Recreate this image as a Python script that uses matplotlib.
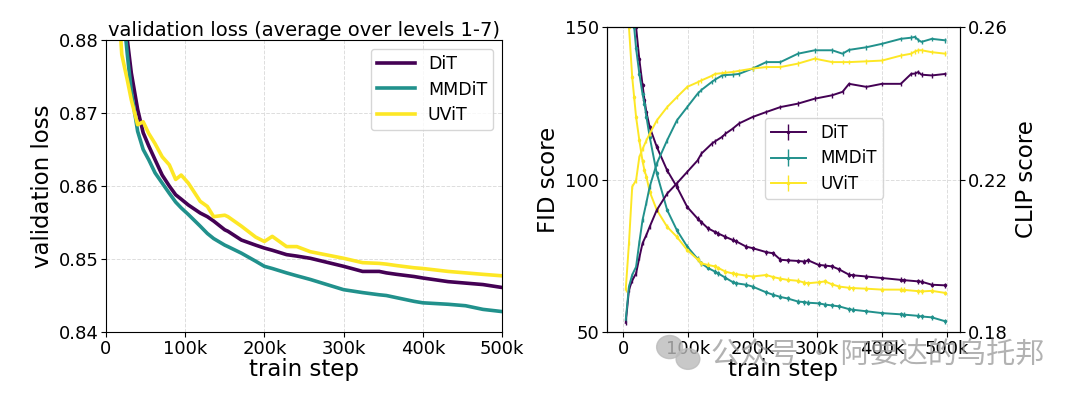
import matplotlib.pyplot as plt
import numpy as np
from matplotlib.patches import Ellipse

# left panel: validation loss
loss_step = [10, 20, 27, 32, 40, 47, 54, 62, 71, 80, 88, 95, 104, 119, 128, 136, 150, 154,
             171, 189, 200, 210, 228, 241, 258, 300, 324, 345, 354, 367, 389, 400, 432,
             454, 476, 500]
loss_dit = [0.905, 0.888, 0.880, 0.8755, 0.8705, 0.8673, 0.8655, 0.8636, 0.8615, 0.8600,
            0.8588, 0.8582, 0.8574, 0.8563, 0.8558, 0.8552, 0.8540, 0.8538, 0.8526, 0.8519,
            0.8515, 0.8512, 0.8506, 0.8504, 0.8501, 0.8490, 0.8483, 0.8483, 0.8481, 0.8479,
            0.8476, 0.8474, 0.8469, 0.8467, 0.8465, 0.8461]
loss_mmdit = [0.903, 0.886, 0.878, 0.8730, 0.8675, 0.8650, 0.8636, 0.8618, 0.8604, 0.8590,
              0.8578, 0.8570, 0.8561, 0.8545, 0.8535, 0.8528, 0.8519, 0.8517, 0.8508, 0.8497,
              0.8490, 0.8487, 0.8481, 0.8477, 0.8472, 0.8458, 0.8454, 0.8451, 0.8450, 0.8447,
              0.8442, 0.8440, 0.8438, 0.8436, 0.8431, 0.8428]
loss_uvit = [0.895, 0.878, 0.8745, 0.8718, 0.8684, 0.8688, 0.8672, 0.8658, 0.8640, 0.8629,
             0.8609, 0.8615, 0.8604, 0.8579, 0.8572, 0.8558, 0.8560, 0.8558, 0.8545, 0.8530,
             0.8524, 0.8531, 0.8517, 0.8517, 0.8510, 0.8501, 0.8495, 0.8494, 0.8493, 0.8491,
             0.8488, 0.8487, 0.8483, 0.8481, 0.8479, 0.8477]

# right panel: FID (left axis)
fid_step = [9, 14, 17, 20, 25, 30, 33, 36, 41, 52, 68, 83, 99, 115, 121, 131, 142, 147, 158,
            169, 174, 190, 200, 221, 232, 243, 254, 270, 280, 286, 302, 312, 323, 334, 349,
            355, 376, 400, 429, 434, 456, 461, 477, 498]
fid_dit = [190, 175, 160, 150, 139.4, 131, 126, 122, 117.2, 110.7, 103, 97.6, 91, 87.2, 86,
           84, 82.8, 82.3, 81.2, 80.2, 79.8, 78, 77.5, 76.2, 75.8, 73.7, 73.5, 73.3, 73.1,
           73.5, 72, 71.8, 71.5, 70.5, 68.8, 68.6, 68.2, 67.7, 67.1, 67.0, 66.6, 66.5, 65.5,
           65.3]
fid_mmdit = [175, 160, 150, 143, 134.7, 128, 124.9, 120.5, 114, 102, 90, 83.4, 78, 74,
             72.5, 71, 69.8, 69.2, 67.8, 66.4, 66, 65.5, 64.9, 63, 62.2, 61.5, 61, 60, 59.8,
             59.6, 59.4, 59, 58.7, 58.4, 57.5, 57.3, 56.8, 56.2, 55.8, 55.7, 55.3, 55.1, 54.8,
             53.5]
fid_uvit = [150, 133.6, 127, 120.5, 112.9, 106, 103, 100.9, 96, 90, 84.5, 81.2, 76.9, 73.8,
            72.5, 72, 71.5, 71, 69.8, 69.2, 69, 68.5, 68.2, 68.7, 68, 67.5, 67.1, 66.8, 66.2,
            66, 66.3, 66.6, 65.6, 64.9, 64.5, 64.4, 64.2, 63.9, 63.9, 63.8, 63.4, 63.3, 63.5,
            62.8]

# right panel: CLIP (right axis)
clip_step = [4, 9, 14, 20, 25, 30, 36, 41, 52, 68, 83, 99, 115, 121, 137, 142, 153, 158, 169,
             179, 200, 221, 243, 270, 296, 323, 339, 349, 376, 400, 429, 445, 451, 456, 461,
             477, 498]
clip_dit = [0.1824, 0.1911, 0.1935, 0.1954, 0.1995, 0.2033, 0.2055, 0.2076, 0.2120, 0.2163,
            0.2190, 0.2220, 0.2250, 0.2268, 0.2294, 0.2300, 0.2312, 0.2320, 0.2333, 0.2347,
            0.2364, 0.2377, 0.2390, 0.2399, 0.2412, 0.2421, 0.2430, 0.2451, 0.2443, 0.2451,
            0.2451, 0.2477, 0.2478, 0.2482, 0.2475, 0.2473, 0.2477]
clip_mmdit = [0.1832, 0.1919, 0.1950, 0.1971, 0.2035, 0.2094, 0.2140, 0.2181, 0.2242, 0.2303,
              0.2355, 0.2390, 0.2425, 0.2435, 0.2456, 0.2462, 0.2473, 0.2474, 0.2475, 0.2477,
              0.2491, 0.2508, 0.2508, 0.2530, 0.2539, 0.2539, 0.2530, 0.2540, 0.2547, 0.2556,
              0.2569, 0.2572, 0.2574, 0.2566, 0.2561, 0.2569, 0.2565]
clip_uvit = [0.1911, 0.2033, 0.2181, 0.2198, 0.2259, 0.2280, 0.2303, 0.2320, 0.2355, 0.2390,
             0.2416, 0.2443, 0.2455, 0.2460, 0.2472, 0.2477, 0.2479, 0.2480, 0.2482, 0.2485,
             0.2491, 0.2495, 0.2495, 0.2504, 0.2517, 0.2508, 0.2508, 0.2508, 0.2510, 0.2512,
             0.2525, 0.2530, 0.2536, 0.2539, 0.2539, 0.2534, 0.2530]
fid_err = 0.8
clip_err = 0.0006

names = ['DiT', 'MMDiT', 'UViT']
colors = ['#440154', '#21918c', '#fde725']

x_ticks = [0, 100, 200, 300, 400, 500]
x_labels = ['0', '100k', '200k', '300k', '400k', '500k']

fig = plt.figure(figsize=(10.8, 3.98), dpi=100)
ax1 = fig.add_axes([0.0981, 0.1658, 0.3667, 0.7337])
ax2 = fig.add_axes([0.562, 0.1658, 0.3269, 0.7663])
ax3 = ax2.twinx()

# left panel
for ys, c, n in zip([loss_dit, loss_mmdit, loss_uvit], colors, names):
    ax1.plot(np.array(loss_step) * 1000, ys, color=c, lw=2.6, label=n)
ax1.set_xlim(0, 500000)
ax1.set_ylim(0.84, 0.88)
ax1.set_yticks([0.84, 0.85, 0.86, 0.87, 0.88])
ax1.set_xticks(np.array(x_ticks) * 1000)
ax1.set_xticklabels(x_labels)
ax1.tick_params(labelsize=13, pad=2)
ax1.grid(True, linestyle='--', color='#dddddd', lw=0.7)
ax1.set_xlabel('train step', fontsize=16.5, labelpad=0)
ax1.set_ylabel('validation loss', fontsize=16.5, labelpad=3)
ax1.set_title('validation loss (average over levels 1-7)', fontsize=14, pad=3)
ax1.legend(loc='upper right', fontsize=12.5, handlelength=2.2, handletextpad=0.75,
           borderpad=0.35, labelspacing=0.45)

# right panel
handles = []
for ys, c, n in zip([fid_dit, fid_mmdit, fid_uvit], colors, names):
    h = ax2.errorbar(np.array(fid_step) * 1000, ys, yerr=fid_err, color=c, lw=1.4,
                     elinewidth=1.0, marker='.', ms=3, label=n)
    handles.append(h)
for ys, c, n in zip([clip_dit, clip_mmdit, clip_uvit], colors, names):
    ax3.errorbar(np.array(clip_step) * 1000, ys, yerr=clip_err, color=c, lw=1.4,
                 elinewidth=1.0, label=n)
ax2.set_xlim(-25000, 520500)
ax2.set_ylim(50, 150)
ax3.set_ylim(0.18, 0.26)
ax2.set_yticks([50, 100, 150])
ax3.set_yticks([0.18, 0.22, 0.26])
ax2.set_xticks(np.array(x_ticks) * 1000)
ax2.set_xticklabels(x_labels)
ax2.tick_params(labelsize=13, pad=2)
ax3.tick_params(labelsize=13, pad=2)
ax2.grid(True, linestyle='--', color='#dddddd', lw=0.7)
ax2.set_xlabel('train step', fontsize=16.5, labelpad=0)
ax2.set_ylabel('FID score', fontsize=16.5, labelpad=4)
ax3.set_ylabel('CLIP score', fontsize=16.5, labelpad=5)
ax3.legend(handles, names, loc='upper left', bbox_to_anchor=(0.4476, 0.7016),
           borderaxespad=0, fontsize=12, handlelength=2.1, handletextpad=0.9,
           borderpad=0.35, labelspacing=0.45)

# watermark
fig.text(0.813, 0.108, '公众号 · 阿要达的乌托邦', fontsize=21, color='#999999',
         alpha=0.75, ha='center', va='center',
         family=['Noto Sans CJK SC', 'DejaVu Sans'])
fig.patches.append(Ellipse((0.620, 0.128), 0.024, 0.058, color='#bbbbbb', alpha=0.8,
                           transform=fig.transFigure))
fig.patches.append(Ellipse((0.637, 0.098), 0.022, 0.052, color='#bbbbbb', alpha=0.8,
                           transform=fig.transFigure))

fig.savefig('out.png', dpi=100)
